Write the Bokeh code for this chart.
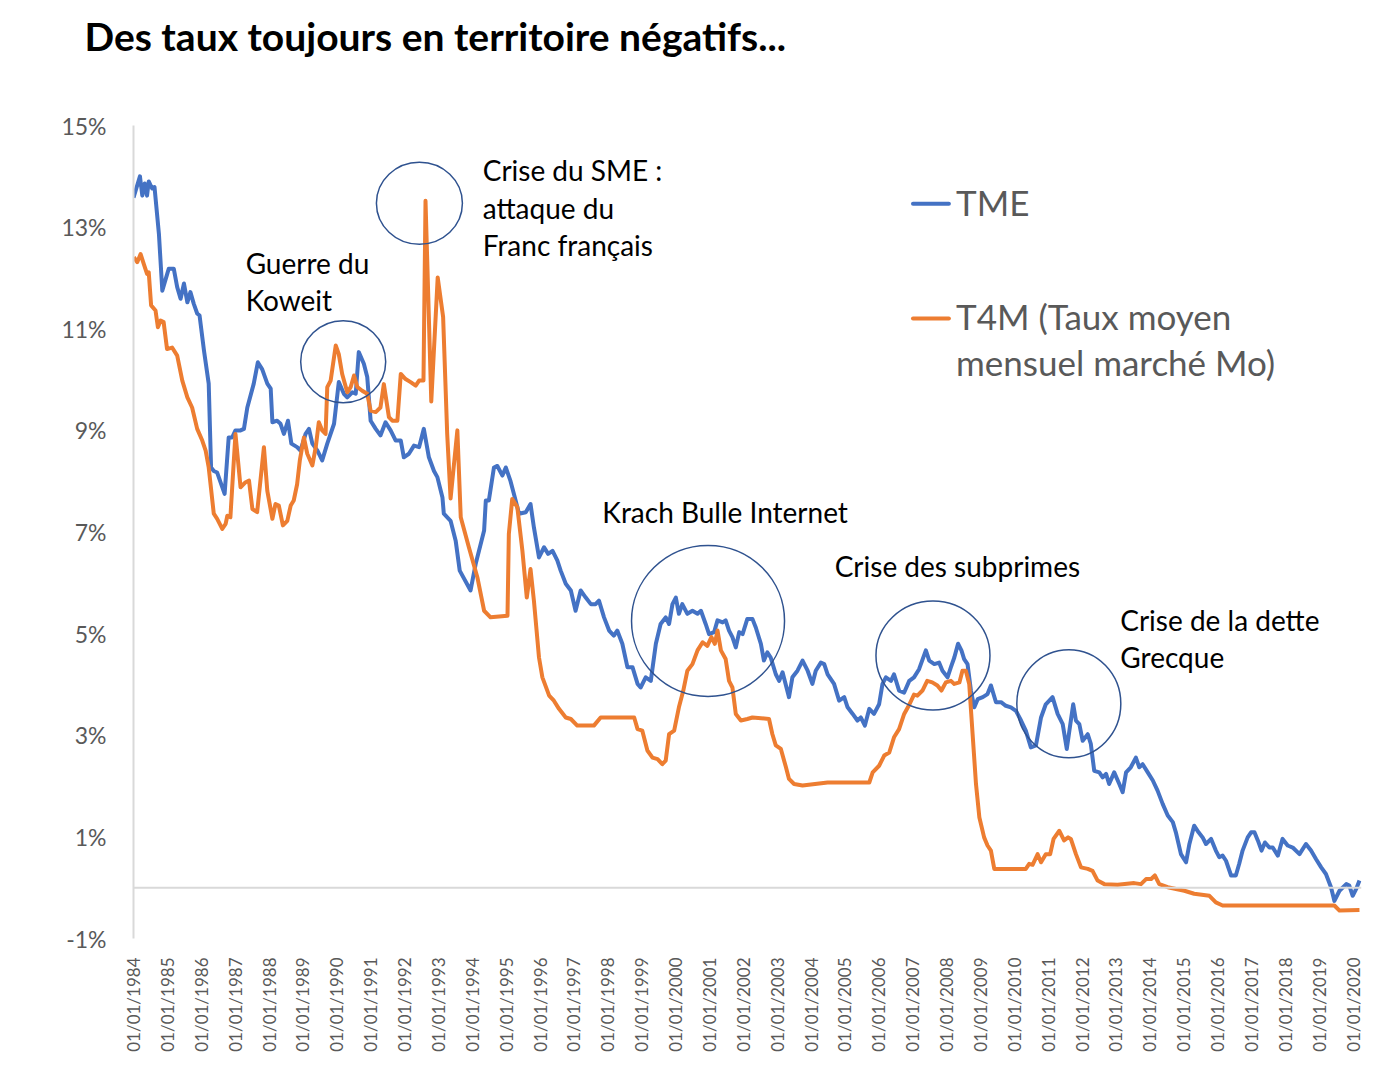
from bokeh.plotting import figure
from bokeh.models import Label, Span, FixedTicker, ColumnDataSource
from bokeh.layouts import column
from bokeh.embed import file_html
from bokeh.resources import INLINE
import math

# ---------------- data ----------------
tme_dates = [1984.00, 1984.19, 1984.26, 1984.33, 1984.40, 1984.45, 1984.55, 1984.62, 1984.75, 1984.85,
             1985.00, 1985.04, 1985.19, 1985.29, 1985.39, 1985.49, 1985.59, 1985.68, 1985.78, 1985.88,
             1985.95, 1986.08, 1986.22, 1986.29, 1986.37, 1986.47, 1986.69, 1986.81, 1986.91, 1987.01,
             1987.16, 1987.26, 1987.36, 1987.55, 1987.67, 1987.80, 1987.95, 1988.05, 1988.10, 1988.24,
             1988.34, 1988.44, 1988.56, 1988.66, 1988.83, 1988.93, 1989.08, 1989.18, 1989.28, 1989.43,
             1989.57, 1989.72, 1989.92, 1990.06, 1990.21, 1990.31, 1990.46, 1990.56, 1990.65, 1990.80,
             1990.90, 1991.00, 1991.15, 1991.29, 1991.44, 1991.59, 1991.74, 1991.89, 1991.98, 1992.13,
             1992.28, 1992.43, 1992.57, 1992.72, 1992.87, 1992.97, 1993.12, 1993.16, 1993.36, 1993.51,
             1993.63, 1993.95, 1994.10, 1994.35, 1994.40, 1994.49, 1994.64, 1994.74, 1994.89, 1994.99,
             1995.13, 1995.23, 1995.38, 1995.58, 1995.72, 1995.82, 1995.97, 1996.12, 1996.24, 1996.37,
             1996.51, 1996.61, 1996.76, 1996.91, 1997.05, 1997.20, 1997.35, 1997.50, 1997.64, 1997.74,
             1997.89, 1998.04, 1998.18, 1998.28, 1998.43, 1998.58, 1998.73, 1998.88, 1998.97, 1999.12,
             1999.27, 1999.42, 1999.56, 1999.71, 1999.81, 1999.91, 2000.01, 2000.10, 2000.20, 2000.35,
             2000.50, 2000.65, 2000.75, 2000.89, 2000.99, 2001.14, 2001.24, 2001.39, 2001.48, 2001.58,
             2001.68, 2001.78, 2001.88, 2001.98, 2002.12, 2002.27, 2002.37, 2002.52, 2002.61, 2002.71,
             2002.81, 2002.96, 2003.06, 2003.16, 2003.35, 2003.45, 2003.60, 2003.75, 2003.90, 2004.04,
             2004.14, 2004.29, 2004.39, 2004.49, 2004.68, 2004.83, 2004.98, 2005.08, 2005.23, 2005.37,
             2005.47, 2005.59, 2005.72, 2005.86, 2006.01, 2006.11, 2006.21, 2006.36, 2006.45, 2006.60,
             2006.75, 2006.90, 2007.04, 2007.19, 2007.39, 2007.49, 2007.64, 2007.78, 2007.88, 2008.03,
             2008.13, 2008.23, 2008.34, 2008.44, 2008.52, 2008.62, 2008.72, 2008.82, 2008.92, 2009.07,
             2009.21, 2009.31, 2009.46, 2009.61, 2009.75, 2009.90, 2010.05, 2010.20, 2010.34, 2010.49,
             2010.64, 2010.79, 2010.93, 2011.13, 2011.28, 2011.43, 2011.55, 2011.67, 2011.74, 2011.82,
             2011.92, 2012.02, 2012.17, 2012.26, 2012.36, 2012.51, 2012.61, 2012.71, 2012.80, 2012.95,
             2013.10, 2013.20, 2013.30, 2013.44, 2013.59, 2013.69, 2013.79, 2013.94, 2014.09, 2014.23,
             2014.38, 2014.53, 2014.68, 2014.77, 2014.92, 2015.07, 2015.17, 2015.31, 2015.44, 2015.56,
             2015.66, 2015.81, 2015.95, 2016.05, 2016.15, 2016.25, 2016.40, 2016.54, 2016.64, 2016.74,
             2016.89, 2016.99, 2017.09, 2017.19, 2017.30, 2017.40, 2017.53, 2017.63, 2017.78, 2017.92,
             2018.07, 2018.22, 2018.42, 2018.61, 2018.76, 2018.91, 2019.06, 2019.20, 2019.35, 2019.45,
             2019.60, 2019.80, 2019.89, 2019.99, 2020.09, 2020.19]
tme_values = [13.58, 14.00, 13.62, 13.86, 13.62, 13.90, 13.76, 13.79, 12.87, 11.75,
              12.09, 12.18, 12.18, 11.82, 11.59, 11.89, 11.52, 11.72, 11.49, 11.30,
              11.26, 10.57, 9.92, 8.27, 8.20, 8.17, 7.75, 8.86, 8.86, 9.00,
              9.00, 9.03, 9.45, 9.92, 10.34, 10.20, 9.92, 9.82, 9.16, 9.19,
              9.13, 8.93, 9.19, 8.74, 8.67, 8.60, 8.93, 9.03, 8.74, 8.60,
              8.41, 8.74, 9.13, 9.95, 9.72, 9.65, 9.75, 9.72, 10.54, 10.31,
              10.05, 9.19, 9.03, 8.90, 9.16, 9.00, 8.80, 8.80, 8.47, 8.54,
              8.70, 8.67, 9.03, 8.47, 8.20, 8.08, 7.68, 7.36, 7.22, 6.83,
              6.24, 5.85, 6.37, 7.03, 7.62, 7.62, 8.27, 8.30, 8.11, 8.27,
              8.00, 7.75, 7.36, 7.39, 7.55, 7.09, 6.50, 6.70, 6.57, 6.63,
              6.44, 6.24, 5.98, 5.85, 5.45, 5.85, 5.71, 5.58, 5.58, 5.65,
              5.32, 5.06, 4.96, 5.06, 4.80, 4.34, 4.34, 4.01, 3.94, 4.14,
              4.07, 4.80, 5.19, 5.32, 5.19, 5.58, 5.71, 5.39, 5.58, 5.39,
              5.45, 5.39, 5.45, 5.19, 4.99, 5.03, 5.26, 5.22, 5.26, 5.06,
              4.93, 4.73, 5.03, 4.99, 5.29, 5.29, 5.12, 4.80, 4.47, 4.63,
              4.53, 4.20, 4.07, 4.24, 3.75, 4.14, 4.27, 4.47, 4.27, 4.01,
              4.27, 4.43, 4.40, 4.20, 4.01, 3.68, 3.75, 3.55, 3.42, 3.29,
              3.35, 3.19, 3.52, 3.42, 3.61, 4.01, 4.14, 4.07, 4.20, 3.88,
              3.84, 4.07, 4.14, 4.30, 4.67, 4.47, 4.40, 4.43, 4.27, 4.14,
              4.34, 4.53, 4.80, 4.67, 4.50, 4.40, 3.88, 3.55, 3.71, 3.75,
              3.81, 3.98, 3.65, 3.65, 3.58, 3.55, 3.48, 3.29, 3.09, 2.76,
              2.80, 3.35, 3.61, 3.75, 3.42, 3.22, 2.73, 3.29, 3.61, 3.29,
              3.22, 2.89, 3.02, 2.83, 2.30, 2.27, 2.17, 2.24, 2.04, 2.27,
              2.04, 1.88, 2.27, 2.37, 2.56, 2.37, 2.43, 2.27, 2.11, 1.91,
              1.65, 1.42, 1.29, 1.09, 0.66, 0.50, 0.86, 1.22, 1.09, 0.99,
              0.86, 0.96, 0.73, 0.60, 0.63, 0.53, 0.24, 0.24, 0.47, 0.73,
              0.99, 1.09, 1.09, 0.93, 0.73, 0.89, 0.79, 0.79, 0.63, 0.96,
              0.83, 0.79, 0.66, 0.86, 0.73, 0.56, 0.40, 0.27, 0.01, -0.26,
              -0.06, 0.07, 0.04, -0.16, -0.03, 0.14]

t4m_dates = [1984.01, 1984.11, 1984.21, 1984.30, 1984.40, 1984.45, 1984.52, 1984.65, 1984.72, 1984.80,
             1984.89, 1984.99, 1985.14, 1985.29, 1985.44, 1985.59, 1985.73, 1985.88, 1986.03, 1986.13,
             1986.22, 1986.37, 1986.47, 1986.62, 1986.72, 1986.77, 1986.86, 1987.01, 1987.16, 1987.31,
             1987.41, 1987.51, 1987.65, 1987.85, 1987.95, 1988.10, 1988.19, 1988.29, 1988.41, 1988.54,
             1988.64, 1988.73, 1988.83, 1988.91, 1989.03, 1989.13, 1989.28, 1989.38, 1989.47, 1989.57,
             1989.67, 1989.72, 1989.82, 1989.97, 1990.06, 1990.16, 1990.31, 1990.41, 1990.51, 1990.61,
             1990.75, 1990.90, 1991.00, 1991.15, 1991.29, 1991.39, 1991.54, 1991.64, 1991.79, 1991.89,
             1992.03, 1992.18, 1992.33, 1992.43, 1992.56, 1992.62, 1992.79, 1992.98, 1993.14, 1993.26,
             1993.36, 1993.56, 1993.66, 1993.90, 1994.15, 1994.35, 1994.54, 1995.04, 1995.08, 1995.18,
             1995.33, 1995.48, 1995.61, 1995.72, 1995.82, 1995.97, 1996.07, 1996.27, 1996.41, 1996.56,
             1996.76, 1996.91, 1997.10, 1997.59, 1997.79, 1998.78, 1998.88, 1999.02, 1999.17, 1999.32,
             1999.47, 1999.61, 1999.71, 1999.81, 1999.96, 2000.10, 2000.23, 2000.35, 2000.50, 2000.65,
             2000.80, 2000.94, 2001.06, 2001.16, 2001.24, 2001.34, 2001.48, 2001.58, 2001.68, 2001.78,
             2001.93, 2002.12, 2002.27, 2002.76, 2002.86, 2002.96, 2003.11, 2003.26, 2003.35, 2003.50,
             2003.75, 2004.49, 2005.72, 2005.82, 2006.01, 2006.16, 2006.31, 2006.45, 2006.60, 2006.75,
             2006.90, 2007.04, 2007.14, 2007.29, 2007.43, 2007.58, 2007.73, 2007.85, 2007.98, 2008.13,
             2008.23, 2008.38, 2008.47, 2008.57, 2008.67, 2008.77, 2008.87, 2008.97, 2009.11, 2009.21,
             2009.31, 2009.41, 2010.34, 2010.44, 2010.54, 2010.69, 2010.79, 2010.93, 2011.06, 2011.16,
             2011.33, 2011.47, 2011.59, 2011.67, 2011.82, 2011.97, 2012.17, 2012.31, 2012.46, 2012.66,
             2013.05, 2013.54, 2013.74, 2013.89, 2014.04, 2014.15, 2014.28, 2014.53, 2015.02, 2015.31,
             2015.76, 2015.95, 2016.15, 2019.45, 2019.60, 2020.19]
t4m_values = [12.41, 12.31, 12.47, 12.28, 12.08, 12.11, 11.46, 11.36, 11.03, 11.16,
              11.13, 10.60, 10.63, 10.47, 9.98, 9.65, 9.45, 9.03, 8.80, 8.60,
              8.27, 7.36, 7.26, 7.06, 7.16, 7.32, 7.29, 8.93, 7.88, 7.98,
              8.01, 7.45, 7.39, 8.67, 7.81, 7.26, 7.55, 7.52, 7.13, 7.22,
              7.52, 7.62, 7.94, 8.41, 8.86, 8.54, 8.31, 8.67, 9.16, 9.00,
              8.93, 9.85, 9.98, 10.67, 10.50, 10.11, 9.75, 9.85, 10.08, 9.85,
              9.78, 9.72, 9.39, 9.36, 9.45, 9.91, 9.26, 9.19, 9.19, 10.11,
              10.01, 9.95, 9.88, 9.98, 9.98, 13.52, 9.57, 12.01, 11.23, 8.93,
              7.66, 9.00, 7.29, 6.70, 6.11, 5.45, 5.32, 5.35, 6.96, 7.65,
              7.49, 6.63, 5.71, 6.27, 5.65, 4.53, 4.14, 3.78, 3.68, 3.52,
              3.35, 3.32, 3.19, 3.19, 3.35, 3.35, 3.12, 3.09, 2.70, 2.56,
              2.53, 2.43, 2.50, 3.02, 3.09, 3.55, 3.88, 4.27, 4.40, 4.67,
              4.83, 4.76, 4.93, 4.80, 5.06, 4.67, 4.50, 4.07, 3.94, 3.42,
              3.29, 3.32, 3.35, 3.32, 3.02, 2.80, 2.73, 2.37, 2.14, 2.04,
              2.01, 2.07, 2.07, 2.27, 2.40, 2.60, 2.66, 2.96, 3.12, 3.42,
              3.60, 3.80, 3.78, 3.88, 4.07, 4.04, 3.98, 3.88, 4.04, 4.07,
              4.01, 4.04, 4.27, 4.27, 4.01, 3.02, 2.04, 1.38, 0.99, 0.83,
              0.73, 0.37, 0.37, 0.47, 0.45, 0.66, 0.50, 0.66, 0.66, 0.96,
              1.12, 0.93, 0.99, 0.96, 0.66, 0.40, 0.37, 0.33, 0.14, 0.07,
              0.06, 0.09, 0.07, 0.17, 0.17, 0.24, 0.07, 0.01, -0.06, -0.12,
              -0.16, -0.29, -0.35, -0.35, -0.45, -0.44]

series_names = ["TME", "T4M (Taux moyen", "mensuel marché Mo)"]
x_tick_years = list(range(1984, 2021))
x_tick_labels = [f"01/01/{y}" for y in x_tick_years]
y_ticks = [-1, 1, 3, 5, 7, 9, 11, 13, 15]
y_tick_labels = ["-1%", "1%", "3%", "5%", "7%", "9%", "11%", "13%", "15%"]

title_text = "Des taux toujours en territoire négatifs..."
event_names = ["Guerre du Koweit", "Crise du SME", "Krach Bulle Internet",
               "Crise des subprimes", "Crise de la dette Grecque"]
event_year = [1990.19, 1992.44, 2000.96, 2007.60, 2011.61]
event_rate = [10.35, 13.47, 5.25, 4.57, 3.62]

# ---------------- style ----------------
BLUE = "#4472C4"
ORANGE = "#ED7D31"
CIRCLE = "#2F528F"
GRAY_TXT = "#595959"
AXIS_GRAY = "#D9D9D9"
FONT = "Lato"
W = 1381
TITLE_H = 75

# ---------------- title strip (figure whose only content is its title) ----------------
tf = figure(width=W, height=TITLE_H, output_backend="svg", toolbar_location=None,
            x_range=(0, 1), y_range=(0, 1), min_border=0, outline_line_color=None,
            title=title_text)
tf.axis.visible = False
tf.grid.visible = False
tf.title.text_font = FONT
tf.title.text_font_size = "39px"
tf.title.text_font_style = "bold"
tf.title.text_color = "black"
tf.title.align = "left"
tf.title.offset = -49
tf.title.standoff = 21

# ---------------- main chart ----------------
p = figure(width=W, height=1070 - TITLE_H, output_backend="svg", toolbar_location=None,
           x_range=(1984.0, 2020.25), y_range=(-1, 15),
           min_border_left=133, min_border_right=20, min_border_top=125 - TITLE_H,
           min_border_bottom=132, outline_line_color=None)
p.grid.visible = False
p.background_fill_color = "white"
p.border_fill_color = "white"

# y axis
p.yaxis.ticker = FixedTicker(ticks=y_ticks)
p.yaxis.major_label_overrides = {t: l for t, l in zip(y_ticks, y_tick_labels)}
p.yaxis.axis_line_color = AXIS_GRAY
p.yaxis.axis_line_width = 2
p.yaxis.major_tick_line_color = None
p.yaxis.minor_tick_line_color = None
p.yaxis.major_label_text_font = FONT
p.yaxis.major_label_text_font_size = "23px"
p.yaxis.major_label_text_color = GRAY_TXT
p.yaxis.major_label_standoff = 21

# x axis
p.xaxis.ticker = FixedTicker(ticks=x_tick_years)
p.xaxis.major_label_overrides = {t: l for t, l in zip(x_tick_years, x_tick_labels)}
p.xaxis.axis_line_color = None
p.xaxis.major_tick_line_color = None
p.xaxis.minor_tick_line_color = None
p.xaxis.major_label_orientation = math.pi / 2
p.xaxis.major_label_text_font = FONT
p.xaxis.major_label_text_font_size = "17px"
p.xaxis.major_label_text_color = GRAY_TXT
p.xaxis.major_label_standoff = 13

# zero line
p.add_layout(Span(location=0, dimension="width", line_color=AXIS_GRAY, line_width=2))

# series
p.line(tme_dates, tme_values, line_color=BLUE, line_width=4, line_join="round")
p.line(t4m_dates, t4m_values, line_color=ORANGE, line_width=4, line_join="round")

# event circles
circ = ColumnDataSource(dict(x=event_year, y=event_rate,
                             w=[85, 86, 153, 114, 104], h=[82, 82, 151, 109, 108]))
p.ellipse(x="x", y="y", width="w", height="h", source=circ,
          width_units="screen", height_units="screen",
          fill_color=None, line_color=CIRCLE, line_width=1.5)

# annotation texts (x in years, y in %)
notes = [
    ("Guerre du", 1987.31, 12.29),
    ("Koweit", 1987.31, 11.56),
    ("Crise du SME :", 1994.31, 14.12),
    ("attaque du", 1994.31, 13.37),
    ("Franc français", 1994.31, 12.64),
    ("Krach Bulle Internet", 1997.84, 7.39),
    ("Crise des subprimes", 2004.70, 6.34),
    ("Crise de la dette", 2013.13, 5.26),
    ("Grecque", 2013.13, 4.54),
]
for txt, nx, ny in notes:
    p.add_layout(Label(x=nx, y=ny, text=txt, text_font=FONT, text_font_size="28px",
                       text_color="black", text_baseline="alphabetic", text_align="left"))

# legend (manual)
p.segment(x0=[2007.01, 2007.01], y0=[13.46, 11.20], x1=[2008.07, 2008.07], y1=[13.46, 11.20],
          line_color=[BLUE, ORANGE], line_width=4, line_cap="round")
for txt, ly in zip(series_names, [13.49, 11.25, 10.35]):
    p.add_layout(Label(x=2008.28, y=ly, text=txt, text_font=FONT, text_font_size="35px",
                       text_color=GRAY_TXT, text_baseline="alphabetic"))

layout = column(tf, p, spacing=0)
open("out.html", "w").write(file_html(layout, INLINE))
